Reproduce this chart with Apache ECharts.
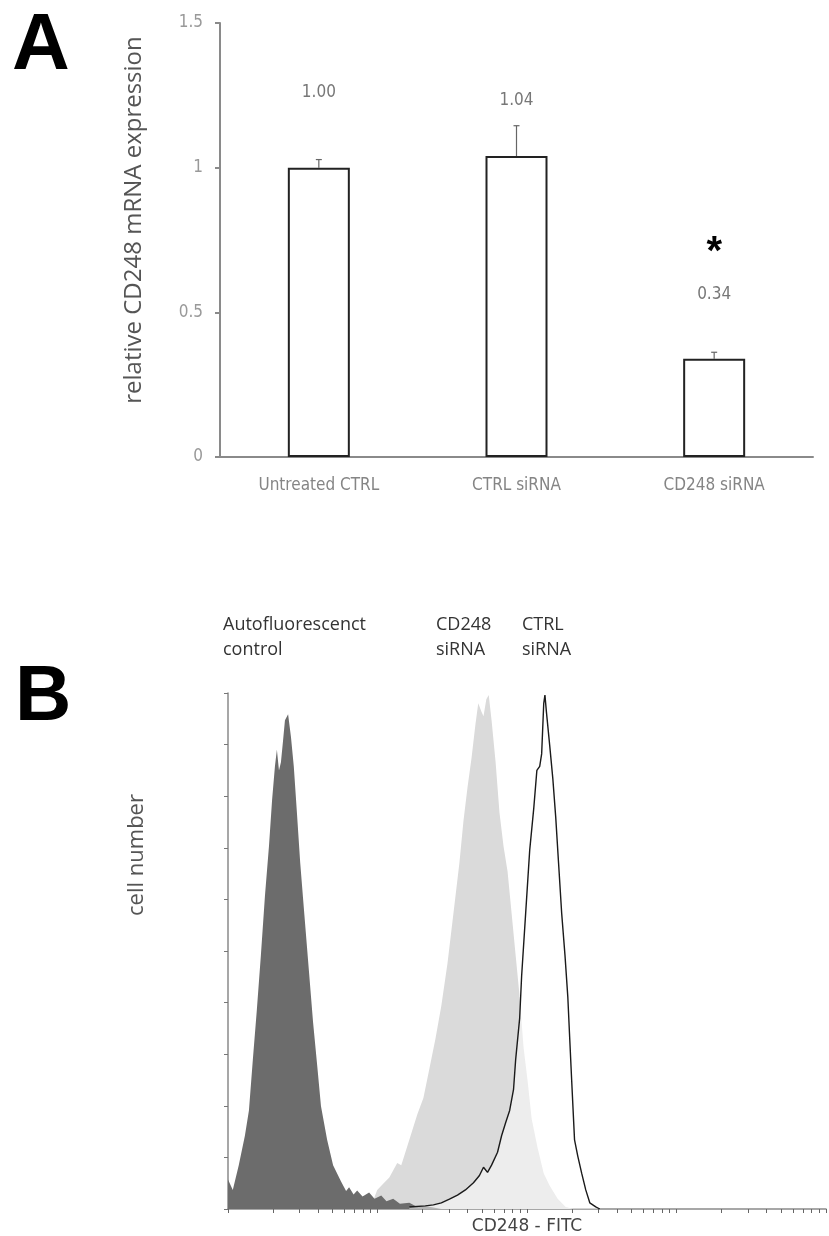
<!DOCTYPE html>
<html>
<head>
<meta charset="utf-8">
<title>CD248 knockdown</title>
<script src="https://cdn.jsdelivr.net/npm/echarts@6/dist/echarts.min.js"></script>
<style>
    html, body { margin: 0; padding: 0; background: #fff; }
    #main { width: 829px; height: 1236px; }
</style>
</head>
<body>
<div id="main"></div>
<script>
// panel A - relative mRNA expression
var groups = ['Untreated CTRL', 'CTRL siRNA', 'CD248 siRNA'];
var expression = [1.00, 1.04, 0.34];
var errorTop = [1.028, 1.145, 0.362];
var valueText = ['1.00', '1.04', '0.34'];

// panel B - flow histograms, x = log decades of CD248-FITC, y = % of max count
var autofluor = [
    [0, 5.7], [0.032, 3.7], [0.072, 8.5], [0.113, 14.2], [0.14, 19.1], [0.166, 28.9],
    [0.193, 38.6], [0.22, 49.2], [0.247, 60.6], [0.274, 70.3], [0.295, 79.3], [0.314, 85.8],
    [0.327, 89.0], [0.341, 85.0], [0.354, 86.6], [0.368, 90.7], [0.381, 94.7], [0.402, 95.9],
    [0.421, 91.5], [0.44, 85.8], [0.461, 76.8], [0.483, 67.1], [0.51, 57.3], [0.542, 45.9],
    [0.569, 36.2], [0.596, 28.0], [0.622, 19.9], [0.663, 13.4], [0.703, 8.5], [0.757, 5.3],
    [0.79, 3.5], [0.81, 4.2], [0.84, 2.8], [0.864, 3.6], [0.9, 2.4], [0.944, 3.2],
    [0.98, 2.0], [1.025, 2.6], [1.06, 1.5], [1.105, 2.0], [1.15, 1.0], [1.213, 1.2],
    [1.26, 0.5], [1.32, 0.6], [1.427, 0]
];
var cd248Si = [
    [0.95, 0], [0.998, 3.7], [1.038, 4.9], [1.079, 6.1], [1.132, 8.9], [1.159, 8.5],
    [1.213, 13.4], [1.266, 18.3], [1.307, 21.5], [1.347, 27.2], [1.387, 32.9], [1.427, 39.4],
    [1.468, 47.6], [1.508, 57.3], [1.548, 67.1], [1.575, 75.2], [1.602, 81.7], [1.629, 87.4],
    [1.655, 93.9], [1.674, 98.0], [1.696, 96.3], [1.709, 95.5], [1.728, 98.8], [1.744, 99.6],
    [1.763, 94.7], [1.79, 86.6], [1.816, 76.8], [1.843, 70.3], [1.87, 65.4], [1.897, 57.3],
    [1.924, 49.2], [1.951, 41.1], [1.977, 31.3], [2.004, 24.8], [2.031, 17.5], [2.071, 11.8],
    [2.112, 6.9], [2.152, 4.5], [2.205, 2.0], [2.259, 0.4], [2.313, 0]
];
var ctrlSi = [
    [1.213, 0.4], [1.32, 0.6], [1.374, 0.8], [1.427, 1.2], [1.481, 1.9], [1.535, 2.7],
    [1.588, 3.7], [1.642, 5.1], [1.682, 6.5], [1.709, 8.1], [1.736, 7.1], [1.763, 8.5],
    [1.803, 11.0], [1.83, 14.2], [1.857, 16.7], [1.884, 19.1], [1.91, 23.2], [1.924, 28.9],
    [1.951, 37.0], [1.964, 45.1], [1.991, 57.3], [2.018, 69.5], [2.045, 77.6], [2.066, 85.0],
    [2.085, 85.8], [2.098, 88.2], [2.112, 98.0], [2.12, 99.6], [2.13, 96.3], [2.152, 89.8],
    [2.173, 83.3], [2.192, 76.0], [2.211, 67.1], [2.232, 57.3], [2.254, 49.2], [2.273, 41.1],
    [2.286, 32.9], [2.299, 24.8], [2.318, 13.4], [2.34, 10.2], [2.366, 6.9], [2.393, 3.7],
    [2.42, 1.2], [2.46, 0.4], [2.487, 0]
];

var condensed = '"DejaVu Sans Condensed", "Liberation Sans Narrow", sans-serif';
var humanist = '"Open Sans", "Noto Sans", sans-serif';

// log-decade tick marks for the FITC axis
var fitcTicks = [];
for (var d = 0; d < 4; d++) {
    for (var k = 1; k < 10; k++) {
        fitcTicks.push(d + Math.log10(k));
    }
}
fitcTicks.push(4);

var labelLift = [-62, -42, -50];
var barData = expression.map(function (v, i) {
    return {value: v, label: {offset: [0, labelLift[i]]}};
});

var chart = echarts.init(document.getElementById('main'));

var option = {
    animation: false,
    grid: [
        {left: 220, right: 16, top: 23, bottom: 779},
        {left: 228, right: 3, top: 693, bottom: 25}
    ],
    xAxis: [
        {
            type: 'category',
            gridIndex: 0,
            data: groups,
            axisLine: {lineStyle: {color: '#8a8a8a', width: 2}},
            axisTick: {show: false},
            axisLabel: {color: '#858585', fontSize: 17, fontFamily: condensed, margin: 20}
        },
        {
            type: 'value',
            gridIndex: 1,
            min: 0,
            max: 4,
            axisLine: {lineStyle: {color: '#8a8a8a', width: 1.5}},
            axisTick: {customValues: fitcTicks, length: 4, lineStyle: {color: '#666'}},
            axisLabel: {show: false},
            splitLine: {show: false},
            name: 'CD248 - FITC',
            nameLocation: 'middle',
            nameGap: 9,
            nameTextStyle: {color: '#444', fontSize: 17, fontFamily: '"DejaVu Sans", sans-serif'}
        }
    ],
    yAxis: [
        {
            type: 'value',
            gridIndex: 0,
            min: 0,
            max: 1.5,
            interval: 0.5,
            axisLine: {show: true, lineStyle: {color: '#8a8a8a', width: 2}},
            axisTick: {show: true, length: 5, lineStyle: {color: '#8a8a8a', width: 2}},
            axisLabel: {color: '#999', fontSize: 17, fontFamily: condensed, margin: 17},
            splitLine: {show: false}
        },
        {
            type: 'value',
            gridIndex: 1,
            min: 0,
            max: 100,
            interval: 10,
            axisLine: {show: true, lineStyle: {color: '#8a8a8a', width: 1.5}},
            axisTick: {show: true, length: 4, lineStyle: {color: '#777'}},
            axisLabel: {show: false},
            splitLine: {show: false}
        }
    ],
    graphic: [
        {type: 'text', x: 12, y: 47, style: {text: 'A', fill: '#000', font: 'bold 80px "Liberation Sans", Arial, sans-serif', verticalAlign: 'middle'}},
        {type: 'text', x: 15, y: 698, style: {text: 'B', fill: '#000', font: 'bold 78px "Liberation Sans", Arial, sans-serif', verticalAlign: 'middle'}},
        {type: 'text', x: 134, y: 220, rotation: Math.PI / 2, style: {text: 'relative CD248 mRNA expression', fill: '#555', font: '24px ' + humanist, align: 'center', verticalAlign: 'middle'}},
        {type: 'text', x: 137, y: 855, rotation: Math.PI / 2, style: {text: 'cell number', fill: '#555', font: '22px ' + humanist, align: 'center', verticalAlign: 'middle'}},
        {type: 'text', x: 223, y: 637, style: {text: 'Autofluorescenct\ncontrol', fill: '#333', font: '18px ' + humanist, lineHeight: 25, verticalAlign: 'middle'}},
        {type: 'text', x: 436, y: 637, style: {text: 'CD248\nsiRNA', fill: '#333', font: '18px ' + humanist, lineHeight: 25, verticalAlign: 'middle'}},
        {type: 'text', x: 522, y: 637, style: {text: 'CTRL\nsiRNA', fill: '#333', font: '18px ' + humanist, lineHeight: 25, verticalAlign: 'middle'}}
    ],
    series: [
        {
            type: 'bar',
            xAxisIndex: 0,
            yAxisIndex: 0,
            data: barData,
            barWidth: 62,
            itemStyle: {color: '#fff', borderColor: '#222', borderWidth: 2},
            label: {
                show: true,
                position: 'top',
                color: '#777',
                fontSize: 17,
                fontFamily: condensed,
                formatter: function (p) {
                    if (p.dataIndex === 2) {
                        return '{s|*}\n{v|' + valueText[2] + '}';
                    }
                    return valueText[p.dataIndex];
                },
                rich: {
                    s: {fontSize: 40, fontWeight: 'bold', color: '#000', lineHeight: 66, fontFamily: '"Liberation Sans", Arial, sans-serif'},
                    v: {fontSize: 17, color: '#777', fontFamily: condensed, lineHeight: 18}
                }
            },
            z: 3
        },
        {
            type: 'custom',
            xAxisIndex: 0,
            yAxisIndex: 0,
            data: expression.map(function (v, i) { return [i, v, errorTop[i]]; }),
            renderItem: function (params, api) {
                var base = api.coord([api.value(0), api.value(1)]);
                var top = api.coord([api.value(0), api.value(2)]);
                var style = {stroke: '#666', lineWidth: 1.2};
                return {
                    type: 'group',
                    children: [
                        {type: 'line', shape: {x1: base[0], y1: base[1], x2: top[0], y2: top[1]}, style: style},
                        {type: 'line', shape: {x1: top[0] - 3, y1: top[1], x2: top[0] + 3, y2: top[1]}, style: style}
                    ]
                };
            },
            z: 2
        },
        {
            name: 'CD248 siRNA',
            type: 'line',
            xAxisIndex: 1,
            yAxisIndex: 1,
            data: cd248Si,
            showSymbol: false,
            lineStyle: {width: 0},
            areaStyle: {color: '#dadada', opacity: 1},
            z: 2
        },
        {
            name: 'Autofluorescent control',
            type: 'line',
            xAxisIndex: 1,
            yAxisIndex: 1,
            data: autofluor,
            showSymbol: false,
            lineStyle: {width: 0},
            areaStyle: {color: '#6c6c6c', opacity: 1},
            z: 3
        },
        {
            name: 'CTRL siRNA',
            type: 'line',
            xAxisIndex: 1,
            yAxisIndex: 1,
            data: ctrlSi,
            showSymbol: false,
            lineStyle: {color: '#1a1a1a', width: 1.4},
            areaStyle: {color: 'rgba(255,255,255,0.5)', opacity: 1},
            z: 4
        }
    ]
};

chart.setOption(option);
</script>
</body>
</html>
